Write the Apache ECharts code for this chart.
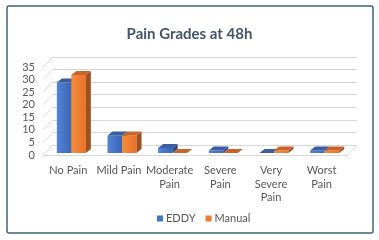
<!DOCTYPE html>
<html>
<head>
<meta charset="utf-8">
<script src="https://cdn.jsdelivr.net/npm/echarts@6/dist/echarts.min.js"></script>
<style>
  html, body { margin: 0; padding: 0; background: #fff; }
  #main { width: 379px; height: 240px; }
</style>
</head>
<body>
<div id="main"></div>
<script>
// 数据
const categories = ['No Pain', 'Mild Pain', 'Moderate\nPain', 'Severe\nPain', 'Very\nSevere\nPain', 'Worst\nPain']
const eddy = [28, 7, 2, 1, 0, 1]
const manual = [31, 7, 0, 0, 1, 1]
const yTicks = [0, 5, 10, 15, 20, 25, 30, 35]

// 3D 偏移
const wallDx = 10, wallDy = -10
const barW = 14.5, depthDx = 5, depthDy = -4, shiftX = 3, shiftY = -2

const font = 'Lato, "Open Sans", sans-serif'

// 画一个带顶面和侧面的柱子
function bar3d(colors, left) {
  return function (params, api) {
    let idx = api.value(0)
    let base = api.coord([idx, 0])
    let top = api.coord([idx, api.value(1)])
    let x0 = (left ? base[0] - barW : base[0]) + shiftX
    let yb = base[1] + shiftY
    let yt = top[1] + shiftY
    return {
      type: 'group',
      children: [
        {
          type: 'rect',
          shape: { x: x0, y: yt, width: barW, height: yb - yt },
          style: {
            fill: new echarts.graphic.LinearGradient(0, 0, 1, 0, [
              { offset: 0, color: colors[0] },
              { offset: 1, color: colors[1] }
            ])
          }
        },
        {
          type: 'polygon',
          shape: { points: [[x0 + barW, yt], [x0 + barW + depthDx, yt + depthDy], [x0 + barW + depthDx, yb + depthDy], [x0 + barW, yb]] },
          style: { fill: colors[3] }
        },
        {
          type: 'polygon',
          shape: { points: [[x0, yt], [x0 + barW, yt], [x0 + barW + depthDx, yt + depthDy], [x0 + depthDx, yt + depthDy]] },
          style: { fill: colors[2] }
        }
      ]
    }
  }
}

// 左侧墙和地面的斜线
function wallLines(params, api) {
  let v = api.value(0)
  let y = api.coord([0, v])[1]
  let x = params.coordSys.x
  let children = [{
    type: 'line',
    shape: { x1: x, y1: y, x2: x + wallDx, y2: y + wallDy },
    style: { stroke: '#d9d9d9', lineWidth: 1 }
  }]
  if (v === 0) {
    let xr = params.coordSys.x + params.coordSys.width
    children.push({
      type: 'line',
      shape: { x1: xr, y1: y, x2: xr + wallDx, y2: y + wallDy },
      style: { stroke: '#d9d9d9', lineWidth: 1 }
    })
  }
  return { type: 'group', children: children }
}

var myChart = echarts.init(document.getElementById('main'))

var option = {
  animation: false,
  backgroundColor: '#fff',
  graphic: [{
    type: 'rect',
    shape: { x: 7, y: 6, width: 366, height: 227, r: 2 },
    style: { fill: 'none', stroke: '#3d6677', lineWidth: 1.5 },
    z: 100
  }],
  title: {
    text: 'Pain Grades at 48h',
    left: 'center',
    top: 22,
    textStyle: { fontFamily: font, fontSize: 15, fontWeight: 'bold', color: '#44546a' }
  },
  legend: {
    bottom: 11,
    left: 152,
    icon: 'rect',
    itemWidth: 6,
    itemHeight: 6,
    itemGap: 10,
    data: ['EDDY', 'Manual'],
    textStyle: { fontFamily: font, fontSize: 11, color: '#595959', padding: [0, 0, 0, -2] }
  },
  grid: [
    { left: 43, right: 32, top: 67, bottom: 85 },
    { left: 53, right: 22, top: 57, bottom: 95 }
  ],
  xAxis: [
    {
      type: 'category',
      data: categories,
      gridIndex: 0,
      axisLine: { lineStyle: { color: '#d9d9d9' } },
      axisTick: { show: false },
      axisLabel: { fontFamily: font, fontSize: 11, color: '#595959', lineHeight: 13.5, margin: 9, interval: 0 }
    },
    {
      type: 'category',
      data: categories,
      gridIndex: 1,
      show: false
    }
  ],
  yAxis: [
    {
      type: 'value',
      gridIndex: 0,
      min: 0, max: 35, interval: 5,
      axisLine: { show: false },
      axisTick: { show: false },
      splitLine: { show: false },
      axisLabel: { fontFamily: font, fontSize: 11, color: '#595959', margin: 8 }
    },
    {
      type: 'value',
      gridIndex: 1,
      min: 0, max: 35, interval: 5,
      axisLine: { show: false },
      axisTick: { show: false },
      axisLabel: { show: false },
      splitLine: { lineStyle: { color: '#d9d9d9' } }
    }
  ],
  series: [
    {
      type: 'custom',
      xAxisIndex: 0, yAxisIndex: 0,
      silent: true,
      renderItem: wallLines,
      encode: { y: 0 },
      data: yTicks.map(v => [v]),
      z: 1
    },
    {
      name: 'EDDY',
      type: 'custom',
      xAxisIndex: 0, yAxisIndex: 0,
      itemStyle: { color: '#4472c4' },
      renderItem: bar3d(['#5283d8', '#3c67b6', '#3a5e9f', '#2d4b82'], true),
      encode: { x: 0, y: 1 },
      data: eddy.map((v, i) => [i, v]),
      z: 3
    },
    {
      name: 'Manual',
      type: 'custom',
      xAxisIndex: 0, yAxisIndex: 0,
      itemStyle: { color: '#ed7d31' },
      renderItem: bar3d(['#f58c40', '#e8722a', '#c9652b', '#9e4f1d'], false),
      encode: { x: 0, y: 1 },
      data: manual.map((v, i) => [i, v]),
      z: 4
    }
  ]
}

option && myChart.setOption(option)
</script>
</body>
</html>
